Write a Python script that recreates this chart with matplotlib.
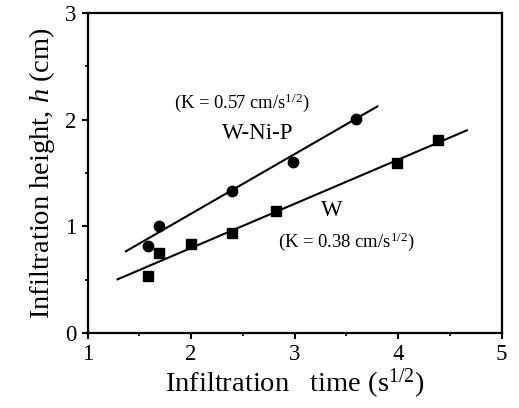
import matplotlib
matplotlib.use("Agg")
import matplotlib.pyplot as plt
import numpy as np

plt.rcParams['font.family'] = ['Liberation Serif', 'DejaVu Serif']
plt.rcParams['mathtext.fontset'] = 'custom'
plt.rcParams['mathtext.rm'] = 'Liberation Serif'
plt.rcParams['mathtext.it'] = 'Liberation Serif:italic'

# Data
wnip_x = [1.58, 1.69, 2.40, 2.99, 3.59]
wnip_y = [0.82, 1.00, 1.33, 1.60, 2.01]
w_x = [1.58, 1.69, 2.00, 2.40, 2.82, 3.99, 4.39]
w_y = [0.53, 0.75, 0.83, 0.94, 1.14, 1.59, 1.81]

# Fitted lines (slope, intercept, x-range)
wnip_fit = [0.559, 0.0]
wnip_range = [1.37, 3.80]
w_fit = [0.414, -0.031]
w_range = [1.29, 4.665]

fig = plt.figure(figsize=(5.19, 4.08), dpi=100)
ax = fig.add_axes([0.1686, 0.1838, 0.7977, 0.7842])

xs = np.array(wnip_range)
ax.plot(xs, wnip_fit[0] * xs + wnip_fit[1], color='black', lw=1.5)
xs = np.array(w_range)
ax.plot(xs, w_fit[0] * xs + w_fit[1], color='black', lw=1.5)
ax.plot(wnip_x, wnip_y, 'o', color='black', ms=7.5)
ax.plot(w_x, w_y, 's', color='black', ms=6.5)

ax.set_xlim(1, 5)
ax.set_ylim(0, 3)
ax.set_xticks([1, 2, 3, 4, 5])
ax.set_xticks([1.5, 2.5, 3.5, 4.5], minor=True)
ax.set_yticks([0, 1, 2, 3])
ax.set_yticks([0.5, 1.5, 2.5], minor=True)
ax.tick_params(which='major', direction='out', length=4, width=1.5, labelsize=16.5, pad=4)
ax.tick_params(which='minor', direction='out', length=2.5, width=1.2)
for s in ax.spines.values():
    s.set_linewidth(1.6)

ax.set_xlabel('Infiltration   time (s$^{1/2}$)', fontsize=20.5, labelpad=1)
ax.set_ylabel('Infiltration height, $\\mathit{h}$ (cm)', fontsize=20.5, labelpad=6)

ax.text(2.49, 2.16, '(K = 0.57 cm/s$^{1/2}$)', fontsize=13.4, ha='center', va='center')
ax.text(2.64, 1.87, 'W-Ni-P', fontsize=16.5, ha='center', va='center')
ax.text(3.36, 1.15, 'W', fontsize=16.5, ha='center', va='center')
ax.text(3.50, 0.86, '(K = 0.38 cm/s$^{1/2}$)', fontsize=13.4, ha='center', va='center')

fig.savefig('out.png', dpi=100)
